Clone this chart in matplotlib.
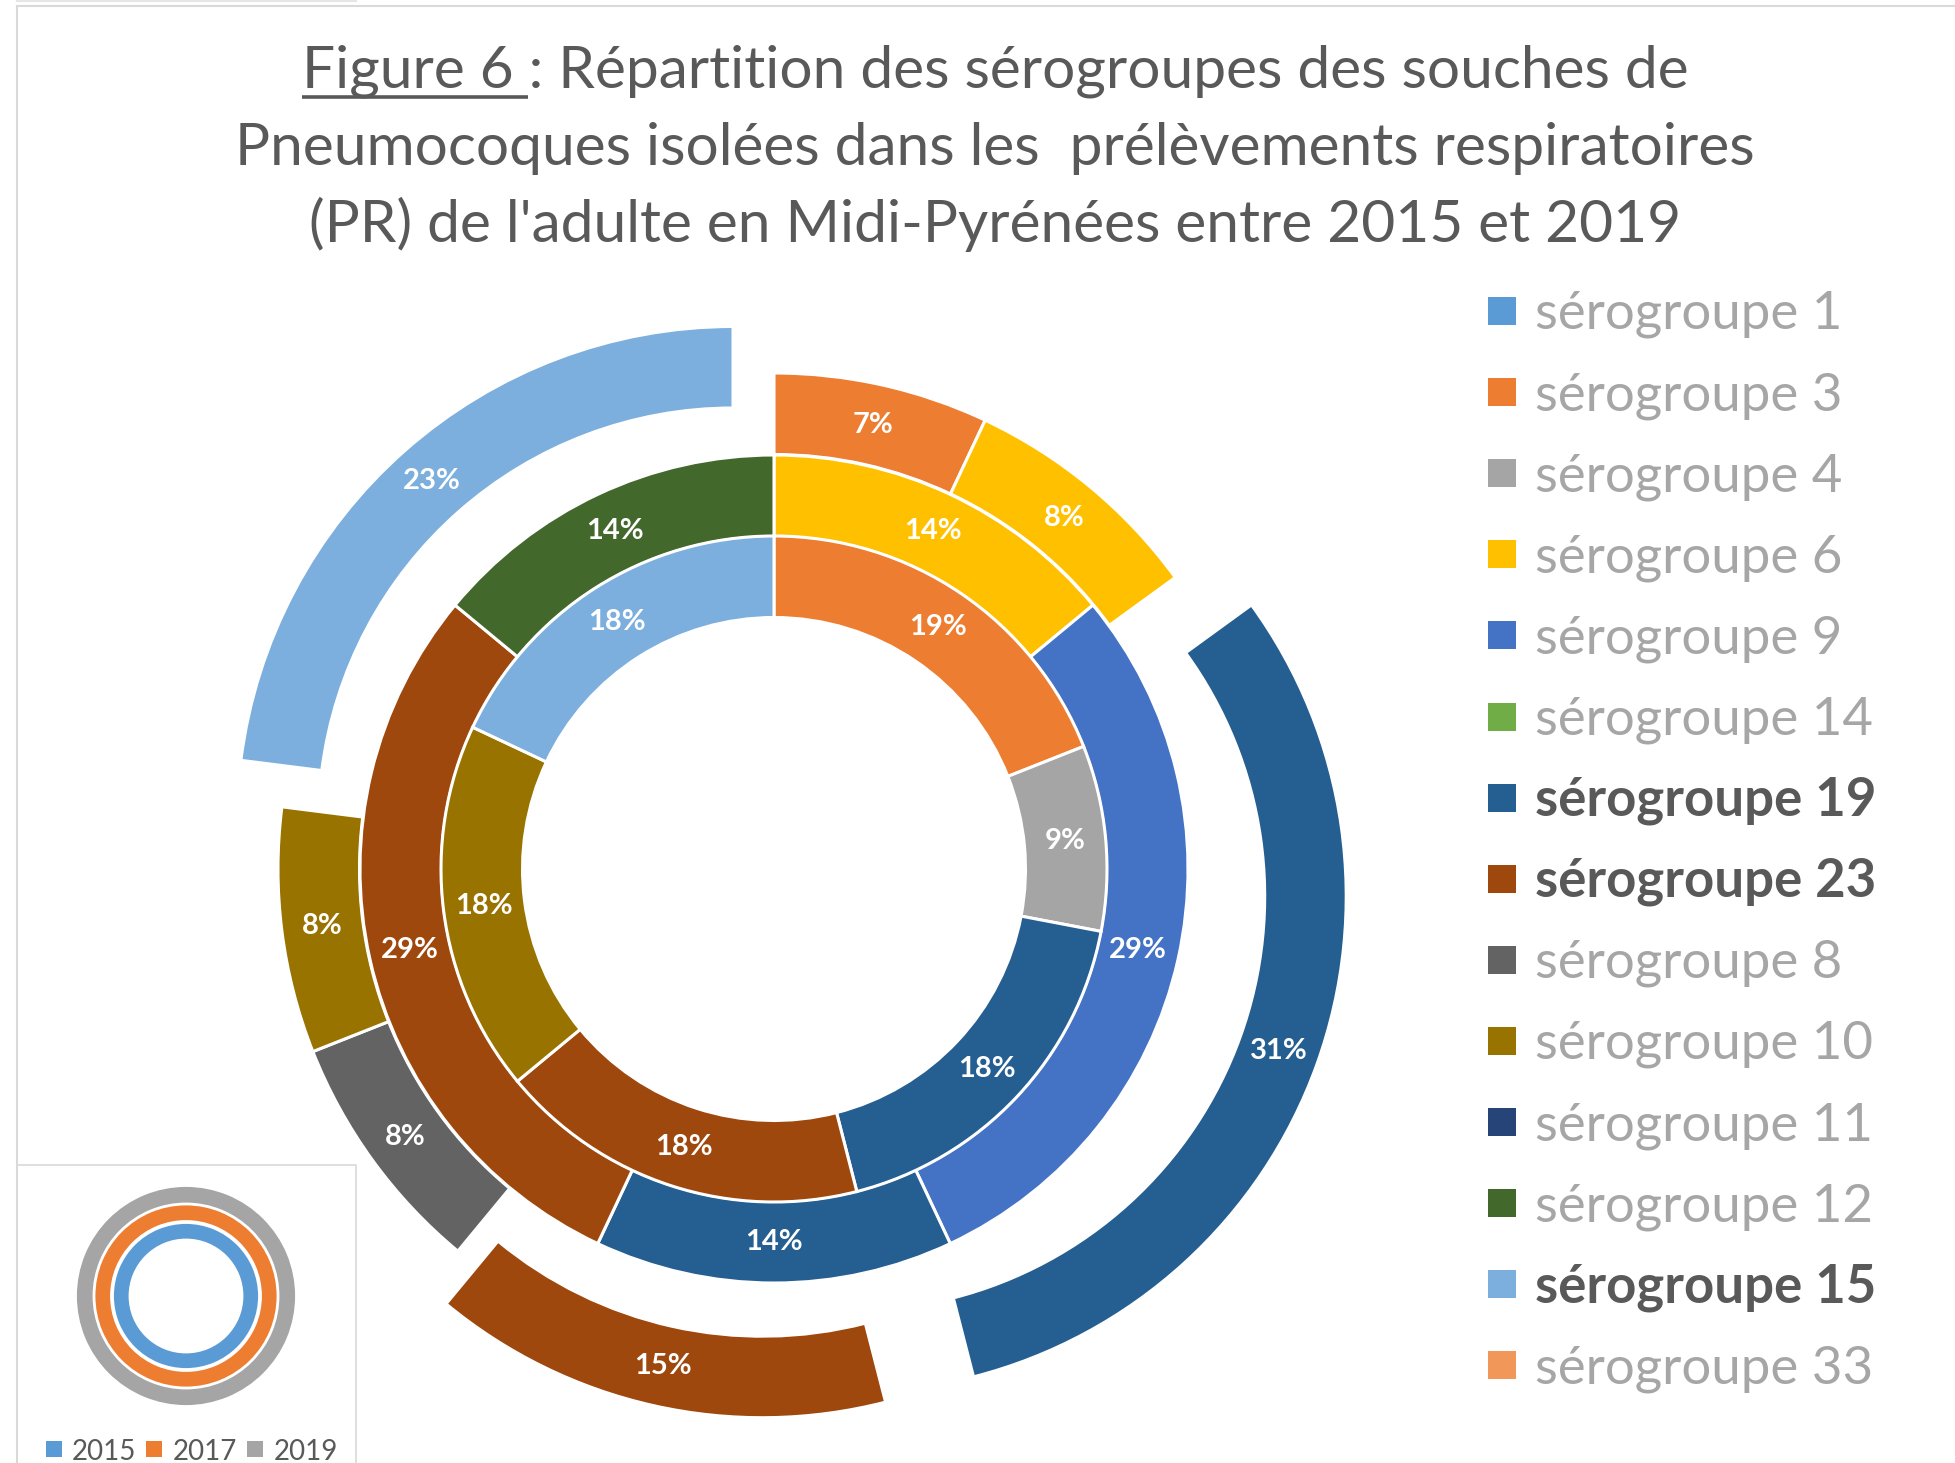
import matplotlib
matplotlib.use('Agg')
import matplotlib.pyplot as plt
from matplotlib.lines import Line2D
from matplotlib.patches import Rectangle

W, H = 1955, 1463

# ---------------- data ----------------
years = ['2015', '2017', '2019']
legend_groups = ['sérogroupe 1', 'sérogroupe 3', 'sérogroupe 4', 'sérogroupe 6',
                 'sérogroupe 9', 'sérogroupe 14', 'sérogroupe 19', 'sérogroupe 23',
                 'sérogroupe 8', 'sérogroupe 10', 'sérogroupe 11', 'sérogroupe 12',
                 'sérogroupe 15', 'sérogroupe 33']
bold_groups = ['sérogroupe 19', 'sérogroupe 23', 'sérogroupe 15']

groups_2015 = ['sérogroupe 3', 'sérogroupe 4', 'sérogroupe 19', 'sérogroupe 23',
               'sérogroupe 10', 'sérogroupe 15']
pct_2015 = [19, 9, 18, 18, 18, 18]

groups_2017 = ['sérogroupe 6', 'sérogroupe 9', 'sérogroupe 19', 'sérogroupe 23',
               'sérogroupe 12']
pct_2017 = [14, 29, 14, 29, 14]

groups_2019 = ['sérogroupe 3', 'sérogroupe 6', 'sérogroupe 19', 'sérogroupe 23',
               'sérogroupe 8', 'sérogroupe 10', 'sérogroupe 15']
pct_2019 = [7, 8, 31, 15, 8, 8, 23]

title_lines = ["Figure 6 : Répartition des sérogroupes des souches de",
               "Pneumocoques isolées dans les  prélèvements respiratoires",
               "(PR) de l'adulte en Midi-Pyrénées entre 2015 et 2019"]
underlined = "Figure 6"

# ---------------- styles ----------------
group_colors = {
    'sérogroupe 1': '#5B9BD5', 'sérogroupe 3': '#ED7D31', 'sérogroupe 4': '#A5A5A5',
    'sérogroupe 6': '#FFC000', 'sérogroupe 9': '#4472C4', 'sérogroupe 14': '#70AD47',
    'sérogroupe 19': '#255E91', 'sérogroupe 23': '#9E480E', 'sérogroupe 8': '#636363',
    'sérogroupe 10': '#997300', 'sérogroupe 11': '#264478', 'sérogroupe 12': '#43682B',
    'sérogroupe 15': '#7CAFDD', 'sérogroupe 33': '#F1975A'}
year_colors = {'2015': '#5B9BD5', '2017': '#ED7D31', '2019': '#A5A5A5'}
explode_2019 = {'sérogroupe 19': 81, 'sérogroupe 23': 54, 'sérogroupe 15': 62}

FONT = ['Lato', 'DejaVu Sans']
plt.rcParams['font.family'] = FONT
TXT_DARK = '#595959'
TXT_LIGHT = '#A6A6A6'
TITLE_FS = 42.2

fig = plt.figure(figsize=(W / 100, H / 100), dpi=100)
ax = fig.add_axes([0, 0, 1, 1])

cx, cy = 774, H - 869
R = [333, 414, 496]   # outer radius of each ring
RW = 81.5             # ring width
wp = dict(width=RW, edgecolor='white', linewidth=2.2)
tp = dict(color='white', fontsize=21, fontweight='bold')

def fmt(p):
    return f'{p:.0f}%'

rings = [(pct_2015, groups_2015, R[0], [0] * len(pct_2015)),
         (pct_2017, groups_2017, R[1], [0] * len(pct_2017)),
         (pct_2019, groups_2019, R[2], [explode_2019.get(g, 0) for g in groups_2019])]
for vals, grps, rad, expl in rings[::-1]:
    ax.pie(vals, radius=rad, center=(cx, cy), colors=[group_colors[g] for g in grps],
           startangle=90, counterclock=False, explode=expl, wedgeprops=wp,
           autopct=fmt, pctdistance=(rad - RW / 2) / rad, textprops=tp)

# ---------------- mini year legend (bottom-left box) ----------------
mcx, mcy = 186, H - 1296
mini = [('2019', 110, 17.5), ('2017', 91.5, 16.5), ('2015', 73, 16.5)]
for yr, rad, w in mini:
    ax.pie([1], radius=rad, center=(mcx, mcy), colors=[year_colors[yr]],
           wedgeprops=dict(width=w, edgecolor='white', linewidth=1.3))

year_sq_x = [54, 154.5, 255.5]
for yr, xs in zip(years, year_sq_x):
    ax.scatter([xs], [H - 1449], marker='s', s=120, color=year_colors[yr],
               linewidths=0, zorder=5)
    ax.text(xs + 18, H - 1460, yr, fontsize=20, color=TXT_DARK, ha='left',
            va='baseline')

# ---------------- right legend ----------------
ly0, ldy = 311, 81.1
for i, g in enumerate(legend_groups):
    yc = H - (ly0 + i * ldy)
    ax.scatter([1502], [yc], marker='s', s=380, color=group_colors[g],
               linewidths=0, zorder=5)
    isb = g in bold_groups
    ax.text(1535, yc - 18, g, fontsize=38, ha='left', va='baseline',
            fontweight='bold' if isb else 'normal',
            color=TXT_DARK if isb else TXT_LIGHT)

# ---------------- borders ----------------
bc = '#D9D9D9'
ax.add_line(Line2D([16.7, W], [H - 6, H - 6], color=bc, lw=1.5))
ax.add_line(Line2D([16.7, 16.7], [H - 6, 0], color=bc, lw=1.5))
ax.add_line(Line2D([16.7, 356], [H - 0.5, H - 0.5], color='#E6E6E6', lw=1.5))
ax.add_patch(Rectangle((16.7, -5), 356 - 16.7, (H - 1165) + 5, facecolor='none',
                       edgecolor=bc, lw=1.2))

# ---------------- title ----------------
title_x = 995
baselines = [88, 165, 242]
tkw = dict(fontsize=TITLE_FS, color=TXT_DARK, ha='center', va='baseline')
t_objs = [ax.text(title_x, H - b, line, **tkw) for line, b in zip(title_lines, baselines)]

ax.set_xlim(0, W)
ax.set_ylim(0, H)
ax.set_aspect('equal')
ax.axis('off')

fig.canvas.draw()
renderer = fig.canvas.get_renderer()
bb = t_objs[0].get_window_extent(renderer)
def text_w(s):
    t = ax.text(0, 0, s, fontsize=TITLE_FS)
    w = t.get_window_extent(renderer).width
    t.remove()
    return w
space_w = text_w('F F') - text_w('FF')
u_w = text_w(underlined) + space_w
ax.add_line(Line2D([bb.x0, bb.x0 + u_w], [H - 97, H - 97], color=TXT_DARK, lw=2.6,
                   solid_capstyle='butt'))

fig.savefig('out.png', dpi=100)
